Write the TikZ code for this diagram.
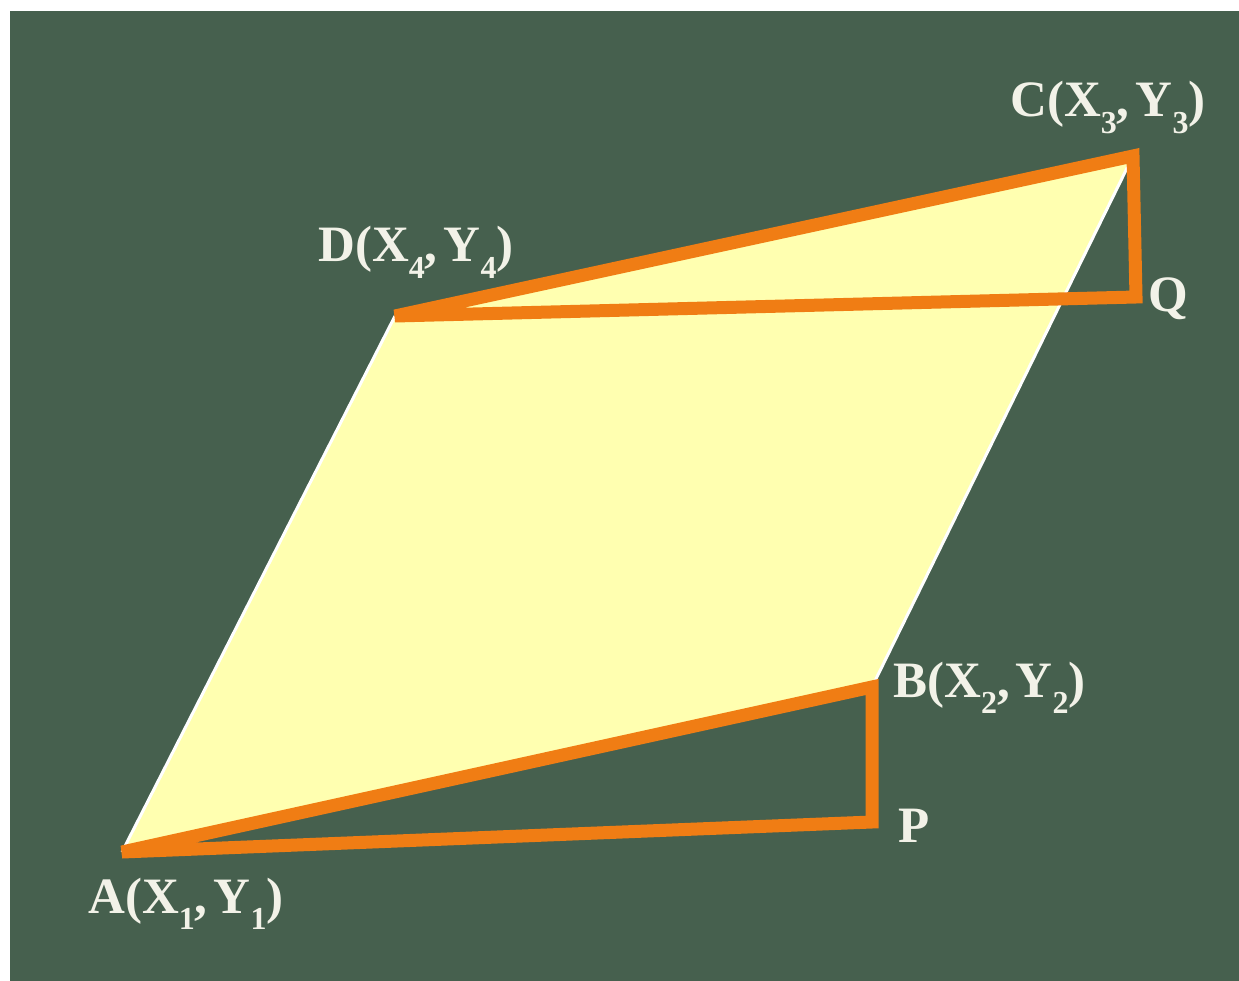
\documentclass[tikz,border=0pt]{standalone}
\usepackage{fontspec}
\setmainfont{Liberation Serif}
\newcommand\lbsub[1]{\raisebox{-0.32em}{\fontsize{32}{32}\selectfont #1}}
\begin{document}
\begin{tikzpicture}[x=1pt,y=-1pt,
  lbl/.style={text=labelwhite,inner sep=0pt,font=\fontsize{51}{56}\selectfont\bfseries},
  edge/.style={draw=orangeline,line width=13pt},
  rim/.style={draw=white,line width=3pt}]
\definecolor{bg}{RGB}{70,96,78}
\definecolor{fillyellow}{RGB}{255,255,176}
\definecolor{orangeline}{RGB}{240,125,20}
\definecolor{labelwhite}{RGB}{242,242,232}
\useasboundingbox (0,0) rectangle (1239,981);
\fill[white] (0,0) rectangle (1239,981);
\fill[bg] (10,11) rectangle (1239,981);
\coordinate (A) at (122,852);
\coordinate (B) at (872,687);
\coordinate (C) at (1133,156);
\coordinate (D) at (395,316);
\coordinate (P) at (872,822);
\coordinate (Q) at (1136,297);
\fill[fillyellow] (A) -- (B) -- (C) -- (D) -- cycle;
\draw[rim] (A) -- (D);
\draw[rim] (B) -- (C);
\draw[edge] (A) -- (B) -- (P) -- cycle;
\draw[edge] (D) -- (C) -- (Q) -- cycle;
\node[lbl,anchor=base west] (lA) at (88,913) {A(X\lbsub{1},\kern0.12em Y\lbsub{1})};
\node[lbl,anchor=base west] (lB) at (893,697) {B(X\lbsub{2},\kern0.12em Y\lbsub{2})};
\node[lbl,anchor=base west] (lC) at (1010,117) {C(X\lbsub{3},\kern0.12em Y\lbsub{3})};
\node[lbl,anchor=base west] (lD) at (318,262) {D(X\lbsub{4},\kern0.12em Y\lbsub{4})};
\node[lbl,anchor=base west] (lP) at (898,842) {P};
\node[lbl,anchor=base west] (lQ) at (1148,312) {Q};
\end{tikzpicture}
\end{document}
